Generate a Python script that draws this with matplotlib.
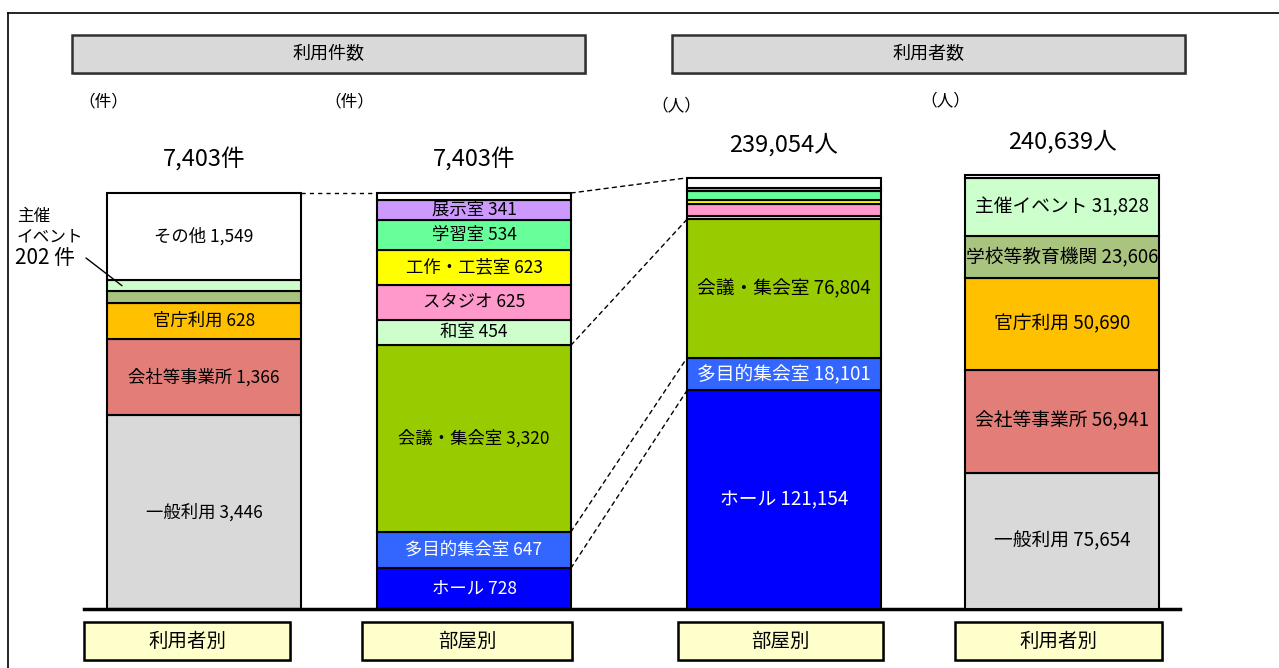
import matplotlib
matplotlib.use("Agg")
import matplotlib.pyplot as plt
from matplotlib.patches import Rectangle, ConnectionPatch
from matplotlib.lines import Line2D

plt.rcParams['font.family'] = ['Noto Sans CJK JP', 'DejaVu Sans']

# 利用件数 / 利用者数 の内訳
user_cats = ['一般利用', '会社等事業所', '官庁利用', '学校等教育機関', '主催イベント', 'その他']
user_counts = [3446, 1366, 628, 212, 202, 1549]     # 件（利用者別）
user_people = [75654, 56941, 50690, 23606, 31828, 1920]  # 人（利用者別）

room_cats = ['ホール', '多目的集会室', '会議・集会室', '和室', 'スタジオ',
             '工作・工芸室', '学習室', '展示室', 'その他']
room_counts = [728, 647, 3320, 454, 625, 623, 534, 341, 131]  # 件（部屋別）
room_people = [121154, 18101, 76804, 1695, 7000, 1800, 5200, 1800, 5500]  # 人（部屋別）

user_colors = ['#D9D9D9', '#E27D78', '#FFC000', '#A9C47F', '#CCFFCC', '#FFFFFF']
room_colors = ['#0000FF', '#3366FF', '#99CC00', '#CCFFCC', '#FF99CC',
               '#FFFF00', '#66FF99', '#CC99FF', '#FFFFFF']

W, H = 1279, 668
fig = plt.figure(figsize=(W / 100, H / 100), dpi=100)

base_px, top_px = 609, 20
ax1 = fig.add_axes([0, (H - base_px) / H, 1, (base_px - top_px) / H])
ax2 = ax1.twinx()
ax1.set_xlim(0, W)
ax1.set_ylim(0, sum(user_counts) * (base_px - top_px) / 416)
ax2.set_ylim(0, sum(user_people) * (base_px - top_px) / 434)
for a in (ax1, ax2):
    a.axis('off')
    a.patch.set_visible(False)

xpos = [204, 474, 784, 1062]
bw = 194


def stack(ax, x, vals, cats, colors, fs, unit):
    total = sum(vals)
    bottom = 0
    tops = []
    for v, c, col in zip(vals, cats, colors):
        ax.bar(x, v, bw, bottom=bottom, color=col, edgecolor='black', linewidth=1.5)
        if v / total > 0.04:
            tc = 'white' if col in ('#0000FF', '#3366FF') else 'black'
            ax.text(x, bottom + v / 2, f'{c} {v:,}', ha='center', va='center',
                    fontsize=fs, color=tc)
        bottom += v
        tops.append(bottom)
    ax.annotate(f'{total:,}{unit}', (x, total), xytext=(0, 24), textcoords='offset points',
                ha='center', va='center', fontsize=17)
    return tops


t1 = stack(ax1, xpos[0], user_counts, user_cats, user_colors, 12.5, '件')
t2 = stack(ax1, xpos[1], room_counts, room_cats, room_colors, 12.5, '件')
t3 = stack(ax2, xpos[2], room_people, room_cats, room_colors, 13.5, '人')
t4 = stack(ax2, xpos[3], user_people, user_cats, user_colors, 13.5, '人')

# connector dashed lines
ax1.plot([xpos[0] + bw / 2, xpos[1] - bw / 2], [t1[-1], t2[-1]], ls=(0, (3, 3)),
         color='black', lw=1)
for i in [-1, 2, 1, 0]:
    con = ConnectionPatch(xyA=(xpos[1] + bw / 2, t2[i]), coordsA=ax1.transData,
                          xyB=(xpos[2] - bw / 2, t3[i]), coordsB=ax2.transData,
                          ls=(0, (3, 3)), color='black', lw=1)
    fig.add_artist(con)

# baseline
ax1.plot([84, 1180], [0, 0], color='black', lw=2.5, clip_on=False, zorder=5)

# 主催イベント annotation
mid = t1[3] + user_counts[4] / 2
con = ConnectionPatch(xyA=(86 / W, 1 - 258 / H), coordsA=fig.transFigure,
                      xyB=(xpos[0] - bw / 2 + 15, mid), coordsB=ax1.transData,
                      color='black', lw=1)
fig.add_artist(con)
fig.text(17 / W, 1 - 216 / H, '主催', fontsize=12, va='center')
fig.text(17 / W, 1 - 237 / H, 'イベント', fontsize=12, va='center')
fig.text(15 / W, 1 - 258 / H, '202 件', fontsize=15, va='center')

# unit labels
for ux, uy, ut in [(103, 102, '（件）'), (349, 102, '（件）'),
                   (676, 106, '（人）'), (945, 101, '（人）')]:
    fig.text(ux / W, 1 - uy / H, ut, fontsize=12, ha='center', va='center')


def fig_box(x0, y0, x1, y1, fc, text, fs, ec):
    fig.add_artist(Rectangle(((x0 + 2) / W, 1 - (y1 + 2) / H), (x1 - x0) / W, (y1 - y0) / H,
                             transform=fig.transFigure, fc='#BFBFBF', ec='none'))
    fig.add_artist(Rectangle((x0 / W, 1 - y1 / H), (x1 - x0) / W, (y1 - y0) / H,
                             transform=fig.transFigure, fc=fc, ec=ec, lw=1.8))
    fig.text((x0 + x1) / 2 / W, 1 - (y0 + y1) / 2 / H, text, fontsize=fs,
             ha='center', va='center')


fig_box(72, 35, 585, 73, '#D9D9D9', '利用件数', 13, '#303030')
fig_box(672, 35, 1185, 73, '#D9D9D9', '利用者数', 13, '#303030')
for bx0, bx1, bt in [(84, 290, '利用者別'), (362, 572, '部屋別'),
                     (678, 883, '部屋別'), (955, 1162, '利用者別')]:
    fig_box(bx0, 622, bx1, 660, '#FFFFCC', bt, 14, 'black')

# outer frame
fig.add_artist(Line2D([8 / W, 8 / W], [0, 1 - 13 / H], color='black', lw=1.2))
fig.add_artist(Line2D([8 / W, 1], [1 - 13 / H, 1 - 13 / H], color='black', lw=1.2))

fig.savefig('out.png', dpi=100)
